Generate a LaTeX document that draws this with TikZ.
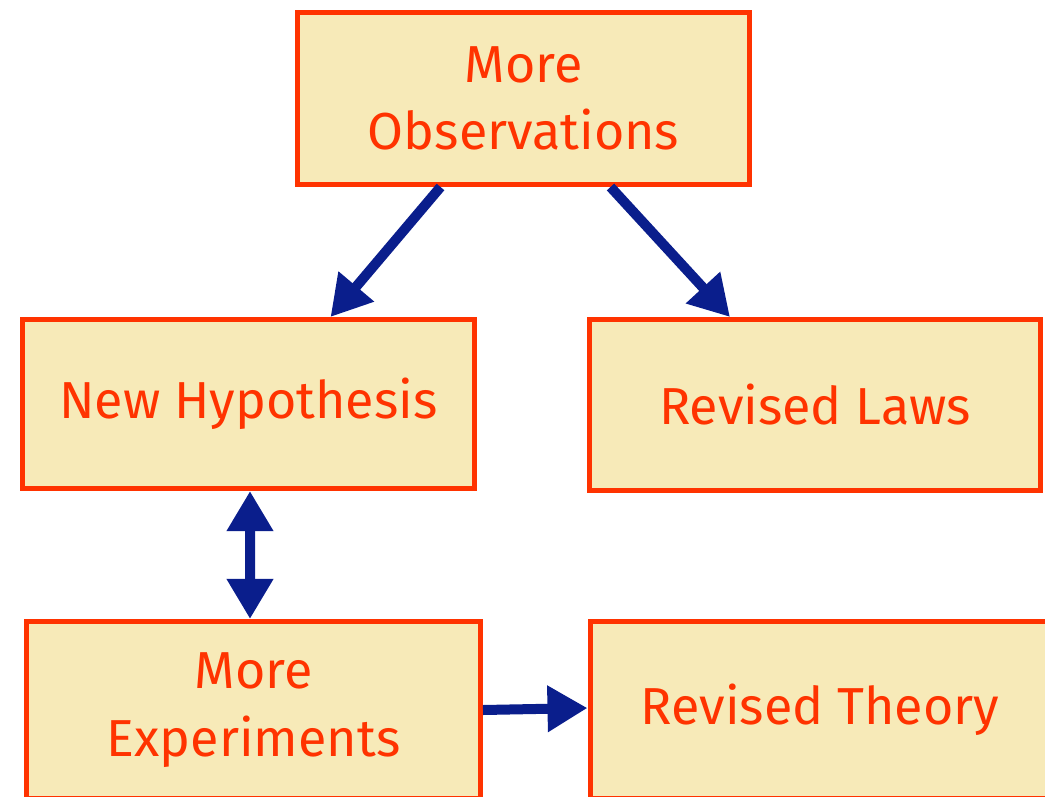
\documentclass[tikz,border=0pt]{standalone}
\usepackage{fontspec}
\setmainfont{Fira Sans}
\usetikzlibrary{arrows.meta,calc}
\definecolor{boxfill}{HTML}{F7EAB8}
\definecolor{boxred}{HTML}{FF3300}
\definecolor{arrowblue}{HTML}{0A1E8C}
\begin{document}
\begin{tikzpicture}[x=0.025cm, y=-0.025cm,
  box/.style = {draw=boxred, fill=boxfill, line width=0.125cm, text=boxred, align=center,
    inner sep=0pt, font=\fontsize{37}{48}\selectfont},
  link/.style = {draw=arrowblue, line width=0.25cm, -{Triangle[length=1cm, width=1.1cm]}},
  both/.style = {link, {Triangle[length=1cm, width=1.1cm]}-{Triangle[length=1cm, width=1.1cm]}}]
  \useasboundingbox (0,0) rectangle (1045,796);
  \node[box, minimum width=452*0.025cm, minimum height=172*0.025cm] (obs) at (523.5,98.5) {More\\Observations};
  \node[box, minimum width=452*0.025cm, minimum height=169*0.025cm] (hyp) at (248.5,404) {New Hypothesis};
  \node[box, minimum width=451*0.025cm, minimum height=171*0.025cm] (laws) at (815,405) {Revised Laws};
  \node[box, minimum width=454*0.025cm, minimum height=177*0.025cm] (exp) at (253.5,710) {More\\Experiments};
  \node[box, minimum width=460*0.025cm, minimum height=177*0.025cm] (theory) at (820,710) {Revised Theory};
  \draw[link] ([xshift=-83*0.025cm]obs.south) to ([xshift=82*0.025cm]hyp.north);
  \draw[link] ([xshift=87*0.025cm]obs.south) to ([xshift=-85*0.025cm]laws.north);
  \draw[both] ([xshift=1.5*0.025cm]hyp.south) to ([xshift=-3.5*0.025cm]exp.north);
  \draw[link] (exp.east |- 0,710) to (theory.west |- 0,708);
\end{tikzpicture}
\end{document}
